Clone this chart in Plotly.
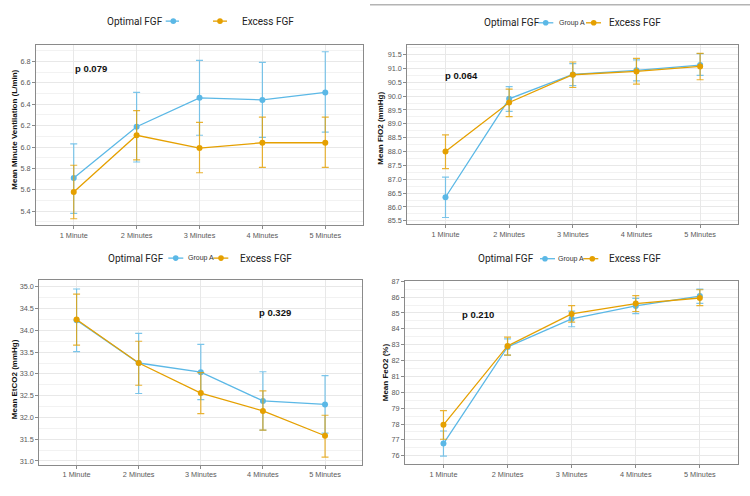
import plotly.graph_objects as go

W, H = 750, 496

categories = ["1 Minute", "2 Minutes", "3 Minutes", "4 Minutes", "5 Minutes"]

# Panel 1: Minute ventilation (L/min)
mv_opt_mean = [5.71, 6.19, 6.46, 6.44, 6.51]
mv_opt_up = [6.03, 6.51, 6.81, 6.79, 6.89]
mv_opt_lo = [5.38, 5.86, 6.11, 6.09, 6.14]
mv_exc_mean = [5.58, 6.11, 5.99, 6.04, 6.04]
mv_exc_up = [5.83, 6.34, 6.23, 6.28, 6.28]
mv_exc_lo = [5.33, 5.88, 5.76, 5.81, 5.81]

# Panel 2: FIO2 (mmHg)
fio2_opt_mean = [86.35, 89.90, 90.78, 90.93, 91.12]
fio2_opt_up = [87.08, 90.34, 91.17, 91.31, 91.53]
fio2_opt_lo = [85.62, 89.45, 90.38, 90.55, 90.75]
fio2_exc_mean = [88.00, 89.77, 90.77, 90.89, 91.07]
fio2_exc_up = [88.60, 90.25, 91.23, 91.36, 91.54]
fio2_exc_lo = [87.38, 89.26, 90.31, 90.43, 90.59]

# Panel 3: EtCO2 (mmHg)
etco2_opt_mean = [34.23, 33.25, 33.04, 32.38, 32.30]
etco2_opt_up = [34.95, 33.93, 33.68, 33.05, 32.96]
etco2_opt_lo = [33.51, 32.55, 32.41, 31.71, 31.64]
etco2_exc_mean = [34.25, 33.25, 32.56, 32.15, 31.58]
etco2_exc_up = [34.83, 33.75, 33.03, 32.61, 32.05]
etco2_exc_lo = [33.66, 32.74, 32.09, 31.71, 31.09]

# Panel 4: FeO2 (%)
feo2_opt_mean = [76.77, 82.86, 84.63, 85.44, 86.06]
feo2_opt_up = [77.56, 83.36, 85.11, 85.92, 86.50]
feo2_opt_lo = [75.98, 82.34, 84.13, 84.96, 85.60]
feo2_exc_mean = [77.95, 82.92, 84.94, 85.59, 85.94]
feo2_exc_up = [78.85, 83.47, 85.46, 86.09, 86.46]
feo2_exc_lo = [77.04, 82.34, 84.42, 85.09, 85.46]

y_titles = ["Mean Minute Ventilation (L/min)", "Mean FIO2 (mmHg)",
            "Mean EtCO2 (mmHg)", "Mean FeO2 (%)"]
p_values = ["p 0.079", "p 0.064", "p 0.329", "p 0.210"]
legend_title = "Optimal FGF"
group_labels = ["Group A", "Excess FGF"]

BLUE = "#5BB8E6"
ORANGE = "#E5A000"
BLUE_ERR = "rgba(91,184,230,0.8)"
ORANGE_ERR = "rgba(229,160,0,0.8)"

panels = [
    dict(opt=(mv_opt_mean, mv_opt_up, mv_opt_lo), exc=(mv_exc_mean, mv_exc_up, mv_exc_lo),
         box=(36, 363, 41, 223), yr=(5.274, 6.957), tick0=5.4, dtick=0.2, fmt=".1f",
         ytitle_xy=(15, 127), p_xy=(91, 65),
         leg=dict(y=17.3, title_x=105, b_line=(165.7, 179), b_mark=173.3, b_text=None,
                  o_line=(213, 227), o_mark=220, o_text=240)),
    dict(opt=(fio2_opt_mean, fio2_opt_up, fio2_opt_lo), exc=(fio2_exc_mean, fio2_exc_up, fio2_exc_lo),
         box=(407.3, 738.3, 41.7, 222.7), yr=(85.369, 91.833), tick0=85.5, dtick=0.5, fmt=".1f",
         ytitle_xy=(381, 126), p_xy=(461, 72),
         leg=dict(y=19, title_x=481.7, b_line=(538.3, 553.3), b_mark=545.7, b_text=556.7,
                  o_line=(586, 601), o_mark=593.7, o_text=607.3)),
    dict(opt=(etco2_opt_mean, etco2_opt_up, etco2_opt_lo), exc=(etco2_exc_mean, etco2_exc_up, etco2_exc_lo),
         box=(39.3, 362.3, 279, 465.3), yr=(30.917, 35.152), tick0=31.0, dtick=0.5, fmt=".1f",
         ytitle_xy=(14, 379), p_xy=(275, 312),
         leg=dict(y=256.7, title_x=105.7, b_line=(168.3, 183.3), b_mark=175.7, b_text=185.7,
                  o_line=(213.3, 228.3), o_mark=221, o_text=237.7)),
    dict(opt=(feo2_opt_mean, feo2_opt_up, feo2_opt_lo), exc=(feo2_exc_mean, feo2_exc_up, feo2_exc_lo),
         box=(405, 738.3, 279.7, 464.7), yr=(75.48, 87.02), tick0=76, dtick=1, fmt="d",
         ytitle_xy=(385, 372), p_xy=(478, 314),
         leg=dict(y=257.3, title_x=476, b_line=(540, 555), b_mark=545, b_text=556,
                  o_line=(583.3, 598.3), o_mark=592.3, o_text=606.7)),
]


def px(x):
    return x / W


def py(y):
    return 1 - y / H


TICK_FONT = dict(family="Liberation Sans, Arial", size=7.3, color="#5a5a5a")
AX_LINE = "#8a8a8a"
GRID = "#e8e8e8"
MINOR_GRID = "#f2f2f2"

fig = go.Figure()
annotations = []
shapes = []

for i, p in enumerate(panels, start=1):
    xa = "x" if i == 1 else f"x{i}"
    ya = "y" if i == 1 else f"y{i}"
    for key, color, ecolor in (("opt", BLUE, BLUE_ERR), ("exc", ORANGE, ORANGE_ERR)):
        mean, up, lo = p[key]
        fig.add_trace(go.Scatter(
            x=categories, y=mean, xaxis=xa, yaxis=ya, mode="lines+markers",
            line=dict(color=color, width=1.3), marker=dict(color=color, size=6),
            error_y=dict(type="data", symmetric=False,
                         array=[u - m for u, m in zip(up, mean)],
                         arrayminus=[m - l for m, l in zip(mean, lo)],
                         color=ecolor, thickness=1.2, width=3.5),
            showlegend=False, hoverinfo="skip",
        ))
    x0, x1, y0, y1 = p["box"]
    axis_common = dict(showline=True, mirror=True, linecolor=AX_LINE, linewidth=1,
                       ticks="outside", ticklen=3, tickcolor=AX_LINE, tickfont=TICK_FONT,
                       showgrid=True, gridcolor=GRID, gridwidth=1, zeroline=False)
    fig.update_layout(**{
        ("xaxis" if i == 1 else f"xaxis{i}"): dict(
            domain=[px(x0), px(x1)], anchor=ya, type="category",
            categoryorder="array", categoryarray=categories, range=[-0.6, 4.6],
            **axis_common),
        ("yaxis" if i == 1 else f"yaxis{i}"): dict(
            domain=[py(y1), py(y0)], anchor=xa, range=list(p["yr"]),
            tickmode="linear", tick0=p["tick0"], dtick=p["dtick"], tickformat=p["fmt"],
            minor=dict(showgrid=True, gridcolor=MINOR_GRID, tick0=p["tick0"] - p["dtick"] / 2,
                       dtick=p["dtick"], ticks=""),
            **axis_common),
    })
    tx, ty = p["ytitle_xy"]
    annotations.append(dict(text=f"<b>{y_titles[i-1]}</b>", x=px(tx), y=py(ty), xref="paper", yref="paper",
                            textangle=-90, showarrow=False, xanchor="center", yanchor="middle",
                            font=dict(family="Liberation Sans, Arial", size=8, color="#111111")))
    pxv, pyv = p["p_xy"]
    annotations.append(dict(text=f"<b>{p_values[i-1]}</b>", x=px(pxv), y=py(pyv), xref="paper", yref="paper",
                            showarrow=False, xanchor="center", yanchor="middle",
                            font=dict(family="Liberation Sans, Arial", size=9.5, color="#111111")))
    # legend (ggplot-like, top of each panel)
    lg = p["leg"]
    LFONT = dict(family="Roboto, Liberation Sans", size=10, color="#222222")
    annotations.append(dict(text=legend_title, x=px(lg["title_x"]), y=py(lg["y"]), xref="paper", yref="paper",
                            showarrow=False, xanchor="left", yanchor="middle", font=LFONT))
    if lg["b_text"] is not None:
        annotations.append(dict(text=group_labels[0], x=px(lg["b_text"]), y=py(lg["y"]), xref="paper", yref="paper",
                                showarrow=False, xanchor="left", yanchor="middle",
                                font=dict(family="Liberation Sans, Arial", size=7, color="#333333")))
    annotations.append(dict(text=group_labels[1], x=px(lg["o_text"]), y=py(lg["y"]), xref="paper", yref="paper",
                            showarrow=False, xanchor="left", yanchor="middle", font=LFONT))
    for (la, lb), mk, col in ((lg["b_line"], lg["b_mark"], BLUE), (lg["o_line"], lg["o_mark"], ORANGE)):
        shapes.append(dict(type="line", xref="paper", yref="paper", x0=px(la), x1=px(lb),
                           y0=py(lg["y"]), y1=py(lg["y"]), line=dict(color=col, width=1.3)))
        shapes.append(dict(type="circle", xref="paper", yref="paper", xsizemode="pixel", ysizemode="pixel",
                           xanchor=px(mk), yanchor=py(lg["y"]), x0=-2.8, x1=2.8, y0=-2.8, y1=2.8,
                           fillcolor=col, line=dict(color=col, width=0)))

# thin grey frame line at top of the right half (image border artifact)
shapes.append(dict(type="line", xref="paper", yref="paper", x0=px(370), x1=1, y0=py(0.8), y1=py(0.8),
                   line=dict(color="#b4b4b4", width=1.5)))

fig.update_layout(
    width=W, height=H, margin=dict(l=0, r=0, t=0, b=0),
    paper_bgcolor="white", plot_bgcolor="white",
    showlegend=False, annotations=annotations, shapes=shapes,
)

fig.write_html("out.html")
